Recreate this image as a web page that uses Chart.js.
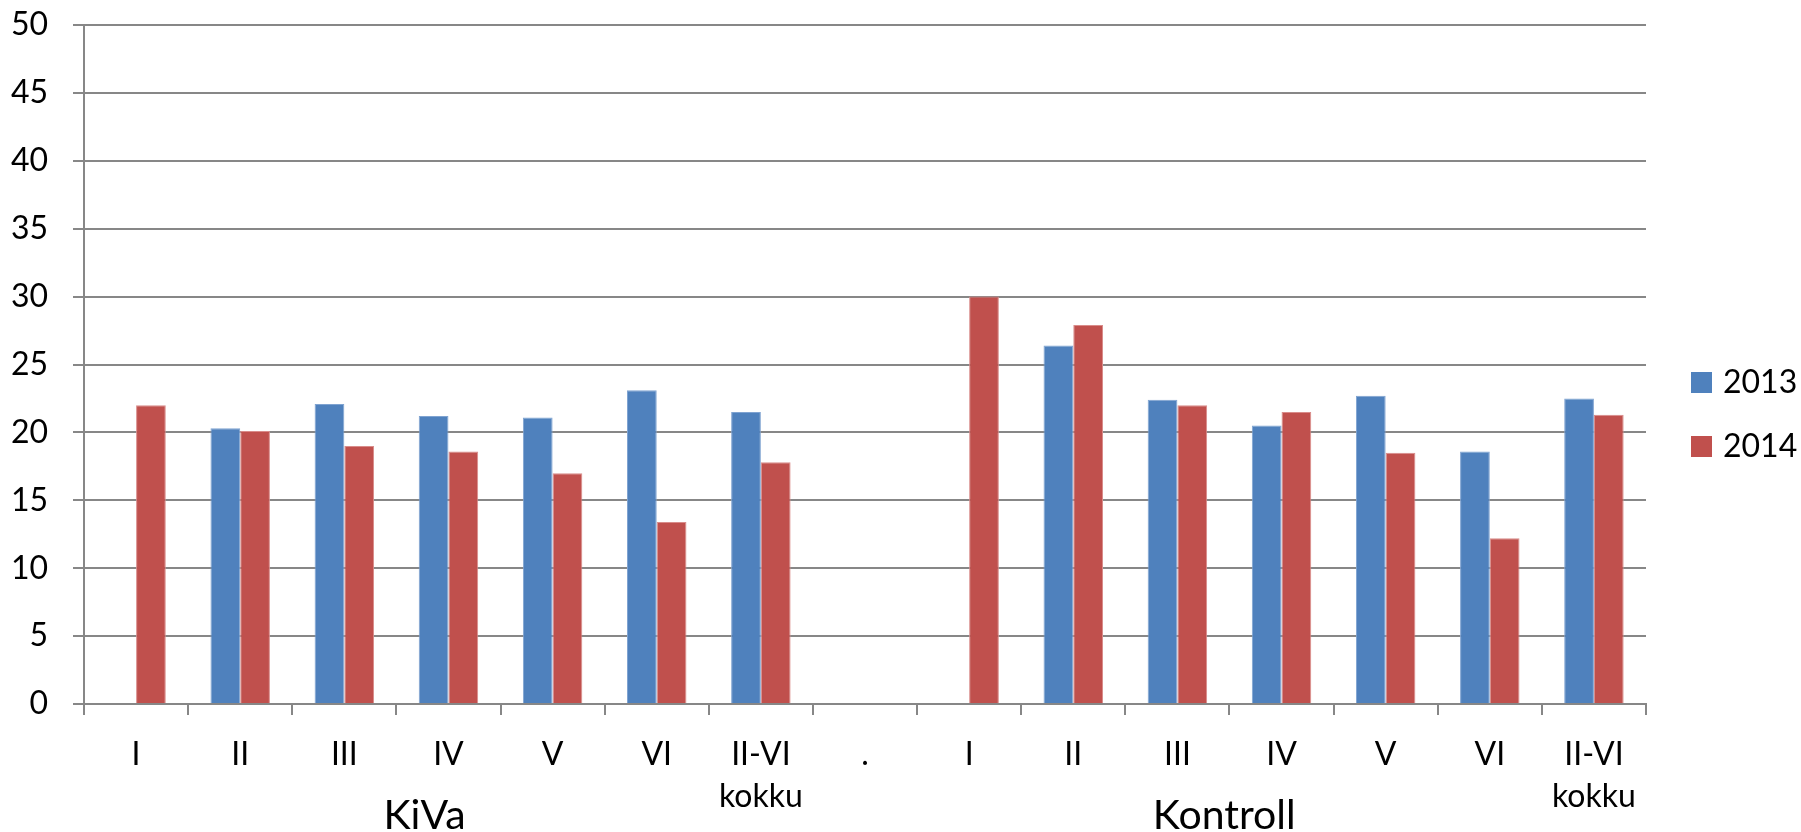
<!DOCTYPE html>
<html>
<head>
<meta charset="utf-8">
<script src="https://cdn.jsdelivr.net/npm/chart.js@4.4.1/dist/chart.umd.min.js"></script>
<style>
  html, body { margin: 0; padding: 0; background: #fff; }
  #wrap { width: 1801px; height: 832px; position: relative; }
</style>
</head>
<body>
<div id="wrap"><canvas id="barChart"></canvas></div>
<script>
const categories = ['I', 'II', 'III', 'IV', 'V', 'VI', ['II-VI', 'kokku'], '.', 'I', 'II', 'III', 'IV', 'V', 'VI', ['II-VI', 'kokku']];
const values2013 = [null, 20.3, 22.1, 21.2, 21.1, 23.1, 21.5, null, null, 26.4, 22.4, 20.5, 22.7, 18.6, 22.5];
const values2014 = [22.0, 20.1, 19.0, 18.6, 17.0, 13.4, 17.8, null, 30.0, 27.9, 22.0, 21.5, 18.5, 12.2, 21.3];
const seriesNames = ['2013', '2014'];
const groupNames = ['KiVa', 'Kontroll'];
const yTicks = [0, 5, 10, 15, 20, 25, 30, 35, 40, 45, 50];

const FONT = 'Lato, "Open Sans", sans-serif';
const gridColor = '#878787';

// group labels under the category labels + legend on the right
const extrasPlugin = {
    id: 'extras',
    afterDraw(chart) {
        const ctx = chart.ctx;
        const x = chart.scales.x;
        const area = chart.chartArea;
        ctx.save();
        ctx.fillStyle = '#000';
        ctx.textAlign = 'center';
        ctx.textBaseline = 'alphabetic';
        ctx.font = '41px ' + FONT;
        const groupPos = [2.77, 10.45];
        groupNames.forEach((name, i) => {
            ctx.fillText(name, x.getPixelForValue(groupPos[i]), 829);
        });

        ctx.font = '32px ' + FONT;
        ctx.textAlign = 'left';
        ctx.textBaseline = 'middle';
        chart.data.datasets.forEach((ds, i) => {
            const cy = 382 + i * 64;
            const bx = area.right + 45;
            ctx.fillStyle = ds.backgroundColor;
            ctx.fillRect(bx, cy - 10, 21, 21);
            ctx.fillStyle = '#000';
            ctx.fillText(ds.label, bx + 32, cy + 1);
        });
        ctx.restore();
    }
};

const chart = new Chart(document.getElementById('barChart').getContext('2d'), {
    type: 'bar',
    data: {
        labels: categories,
        datasets: [{
            label: seriesNames[0],
            data: values2013,
            backgroundColor: '#4F81BD',
            borderColor: '#7FA3D1',
            borderWidth: 1,
            categoryPercentage: 0.571,
            barPercentage: 1.0
        }, {
            label: seriesNames[1],
            data: values2014,
            backgroundColor: '#C0504D',
            borderColor: '#D98C8A',
            borderWidth: 1,
            categoryPercentage: 0.571,
            barPercentage: 1.0
        }]
    },
    options: {
        responsive: true,
        maintainAspectRatio: false,
        animation: false,
        layout: {
            padding: { top: 25, right: 155, bottom: 0, left: 0 }
        },
        plugins: {
            legend: { display: false },
            tooltip: { enabled: false }
        },
        scales: {
            x: {
                grid: {
                    display: true,
                    drawOnChartArea: false,
                    offset: true,
                    color: gridColor,
                    lineWidth: 2,
                    tickLength: 11
                },
                border: { display: true, color: gridColor, width: 2 },
                ticks: {
                    color: '#000',
                    font: { family: FONT, size: 32, lineHeight: 1.33 },
                    padding: 18,
                    maxRotation: 0,
                    autoSkip: false
                },
                afterFit(scale) { scale.height = 128; }
            },
            y: {
                min: 0,
                max: 50,
                afterBuildTicks(scale) {
                    scale.ticks = yTicks.map(v => ({ value: v }));
                },
                grid: {
                    color: gridColor,
                    lineWidth: 2,
                    tickLength: 11
                },
                border: { display: true, color: gridColor, width: 2 },
                ticks: {
                    color: '#000',
                    font: { family: FONT, size: 32 },
                    padding: 25
                },
                afterFit(scale) {
                    scale.width = 84;
                    // tick padding is horizontal only here, top label fits in layout padding
                    scale.paddingTop = 0;
                    scale.paddingBottom = 0;
                }
            }
        }
    },
    plugins: [extrasPlugin]
});
</script>
</body>
</html>
